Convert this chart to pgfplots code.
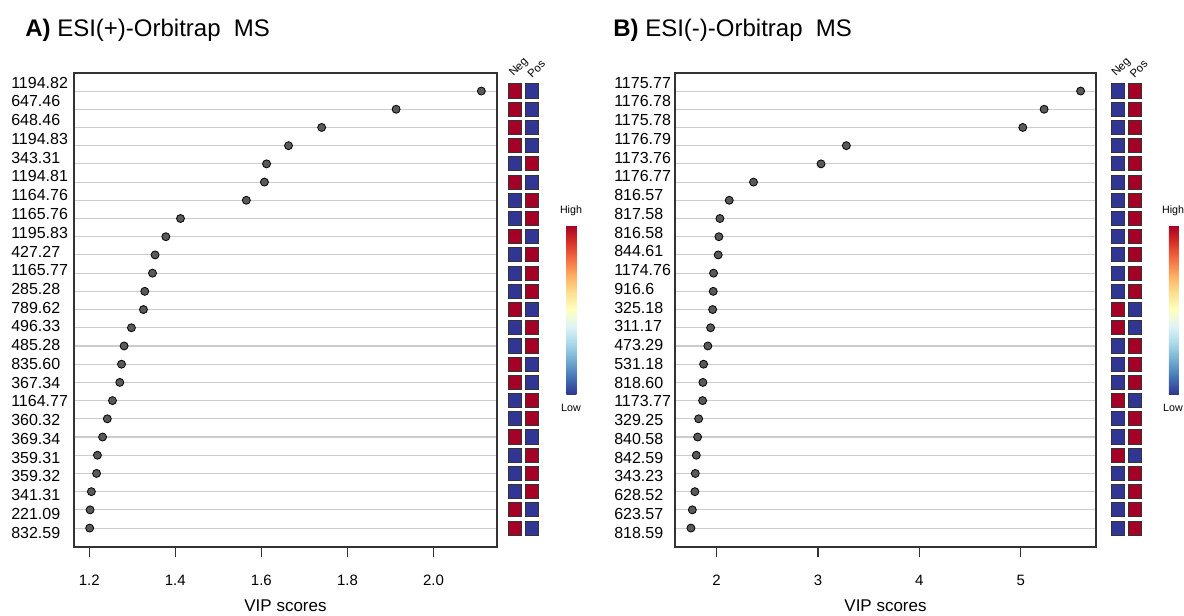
\documentclass[border=0pt]{standalone}
\usepackage{fontspec}
\setmainfont{Liberation Sans}
\usepackage{pgfplots}
\usepackage{pgfplotstable}
\pgfplotsset{compat=1.18}

% idx: 25 = top of the list, 1 = bottom; neg/pos: 1 = high, 0 = low
\pgfplotstableread{
idx vip neg pos
25 2.111 1 0
24 1.913 1 0
23 1.740 1 0
22 1.663 1 0
21 1.612 0 1
20 1.607 1 0
19 1.565 0 1
18 1.412 0 1
17 1.378 1 0
16 1.353 0 1
15 1.347 0 1
14 1.329 0 1
13 1.326 1 0
12 1.298 0 1
11 1.281 0 1
10 1.275 1 0
9 1.271 1 0
8 1.254 0 1
7 1.242 0 1
6 1.231 1 0
5 1.219 0 1
4 1.217 0 1
3 1.205 0 1
2 1.202 1 0
1 1.201 1 0
}\dataA

\pgfplotstableread{
idx vip neg pos
25 5.590 0 1
24 5.230 0 1
23 5.020 0 1
22 3.280 0 1
21 3.030 0 1
20 2.364 0 1
19 2.125 0 1
18 2.033 0 1
17 2.023 0 1
16 2.016 0 1
15 1.970 0 1
14 1.967 0 1
13 1.961 1 0
12 1.941 1 0
11 1.914 0 1
10 1.872 0 1
9 1.865 0 1
8 1.862 1 0
7 1.823 0 1
6 1.813 0 1
5 1.800 1 0
4 1.790 0 1
3 1.786 0 1
2 1.761 0 1
1 1.747 0 1
}\dataB

\pgfplotsset{
  vipaxis/.style={
    scale only axis, height=355.5pt, anchor=north west,
    ymin=-0.04, ymax=25.99,
    ytick={1,...,25}, yticklabel=\empty, ytick style={draw=none},
    ymajorgrids, grid style={black!20, line width=0.8pt},
    axis line style={black!80, line width=0.8pt},
    tick align=outside, xtick pos=left, major tick length=7.5pt,
    xtick style={black!80, line width=0.8pt},
    /pgf/number format/assume math mode=true,
    xticklabel style={font=\fontsize{11.25}{13}\selectfont, anchor=base, yshift=-21.3pt},
    xlabel={VIP scores},
    xlabel style={font=\fontsize{12.75}{15}\selectfont, at={(axis description cs:0.5,0)}, anchor=base, yshift=-48pt},
  },
  labaxis/.style={
    scale only axis, height=355.5pt, anchor=north west,
    xmin=0, xmax=1, ymin=0.237, ymax=25.517,
    ytick={1,...,25}, xtick=\empty, major tick length=0pt,
    axis line style={draw=none},
    yticklabel style={anchor=west, inner sep=0pt, font=\fontsize{12}{14}\selectfont},
  },
  heataxis/.style={
    scale only axis, width=25.5pt, height=355.5pt, anchor=north west,
    xmin=0.5, xmax=2.5, ymin=-0.04, ymax=25.99,
    axis line style={draw=none}, xtick=\empty, ytick=\empty,
    colormap={rdylbu}{rgb255=(49,54,149) rgb255=(69,117,180) rgb255=(116,173,209)
      rgb255=(171,217,233) rgb255=(224,243,248) rgb255=(255,255,191) rgb255=(254,224,144)
      rgb255=(253,174,97) rgb255=(244,109,67) rgb255=(215,48,39) rgb255=(165,0,38)},
    point meta min=0, point meta max=1,
    colorbar,
    colorbar style={at={(parent axis.north east)}, anchor=north west,
      xshift=10.65pt, yshift=-114pt, scale only axis, width=7.5pt, height=126.75pt,
      ytick=\empty, axis line style={draw=none}},
  },
  heatcell/.style={scatter, only marks, mark=square*, mark size=5.3pt,
    mark options={xscale=0.93, line width=0.75pt},
    scatter/use mapped color={draw=black!80, fill=mapped color},
    point meta=explicit},
  vipdot/.style={only marks, mark=*, mark size=3pt, point meta=none,
    mark options={fill=black!65, draw=black, line width=0.6pt}},
}

\begin{document}
\begin{tikzpicture}
\path[use as bounding box] (0,0) rectangle (888pt,-461.25pt);
\clip (0,0) rectangle (888pt,-461.25pt);

% ---------- A ----------
\node[anchor=base west, inner sep=0pt, font=\fontsize{18}{21}\selectfont] at (18.75pt,-27pt) {\textbf{A)} ESI(+)-Orbitrap\ \ MS};
\begin{axis}[labaxis, at={(55.5pt,-54.75pt)}, width=317.25pt,
  yticklabel style={xshift=-47.25pt},
  yticklabels={832.59,221.09,341.31,359.32,359.31,369.34,360.32,1164.77,367.34,835.60,485.28,496.33,789.62,285.28,1165.77,427.27,1195.83,1165.76,1164.76,1194.81,343.31,1194.83,648.46,647.46,1194.82}]
\end{axis}
\begin{axis}[vipaxis, at={(55.5pt,-54.75pt)}, width=317.25pt,
  xmin=1.1646, xmax=2.1474, xtick={1.2,1.4,1.6,1.8,2.0},
  xticklabel style={/pgf/number format/.cd, fixed, fixed zerofill, precision=1}]
\addplot[vipdot] table[x=vip, y=idx] \dataA;
\end{axis}
\begin{axis}[heataxis, at={(380.1pt,-54.75pt)}]
\addplot[heatcell] table[x expr=1, y=idx, meta=neg] \dataA;
\addplot[heatcell] table[x expr=2, y=idx, meta=pos] \dataA;
\end{axis}
\node[rotate=45, anchor=south west, inner sep=0pt, font=\fontsize{8.5}{10}\selectfont] at (386.5pt,-59.25pt) {Neg};
\node[rotate=45, anchor=south west, inner sep=0pt, font=\fontsize{8.5}{10}\selectfont] at (399.2pt,-59.25pt) {Pos};
\node[font=\fontsize{8}{10}\selectfont] at (428.25pt,-158.25pt) {High};
\node[font=\fontsize{8}{10}\selectfont] at (428.25pt,-306pt) {Low};

% ---------- B ----------
\node[anchor=base west, inner sep=0pt, font=\fontsize{18}{21}\selectfont] at (459.75pt,-27pt) {\textbf{B)} ESI(-)-Orbitrap\ \ MS};
\begin{axis}[labaxis, at={(506.25pt,-54.75pt)}, width=315.75pt,
  yticklabel style={xshift=-45.75pt},
  yticklabels={818.59,623.57,628.52,343.23,842.59,840.58,329.25,1173.77,818.60,531.18,473.29,311.17,325.18,916.6,1174.76,844.61,816.58,817.58,816.57,1176.77,1173.76,1176.79,1175.78,1176.78,1175.77}]
\end{axis}
\begin{axis}[vipaxis, at={(506.25pt,-54.75pt)}, width=315.75pt,
  xmin=1.59, xmax=5.742, xtick={2,3,4,5}]
\addplot[vipdot] table[x=vip, y=idx] \dataB;
\end{axis}
\begin{axis}[heataxis, at={(831.9pt,-54.75pt)}]
\addplot[heatcell] table[x expr=1, y=idx, meta=neg] \dataB;
\addplot[heatcell] table[x expr=2, y=idx, meta=pos] \dataB;
\end{axis}
\node[rotate=45, anchor=south west, inner sep=0pt, font=\fontsize{8.5}{10}\selectfont] at (838.3pt,-59.25pt) {Neg};
\node[rotate=45, anchor=south west, inner sep=0pt, font=\fontsize{8.5}{10}\selectfont] at (851pt,-59.25pt) {Pos};
\node[font=\fontsize{8}{10}\selectfont] at (879.75pt,-158.25pt) {High};
\node[font=\fontsize{8}{10}\selectfont] at (879.75pt,-306pt) {Low};
\end{tikzpicture}
\end{document}
